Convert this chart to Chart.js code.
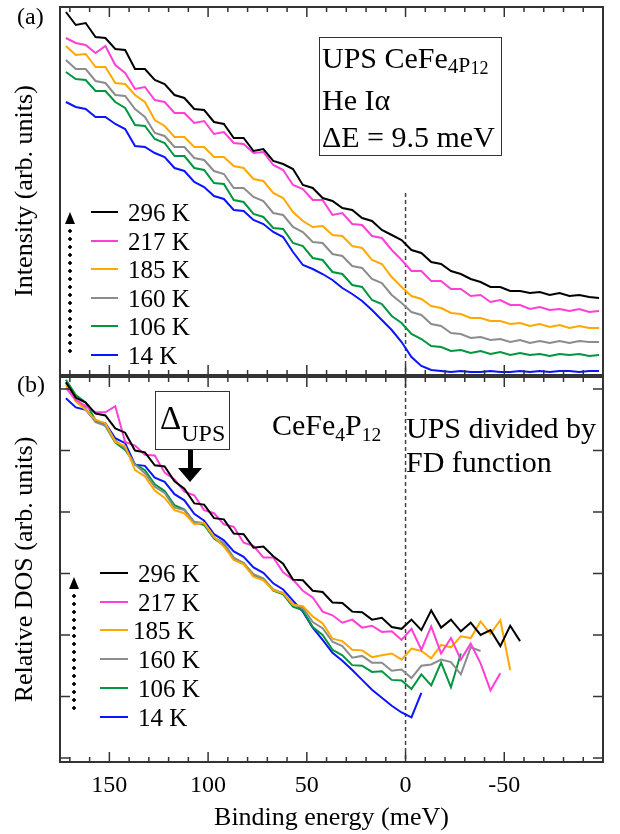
<!DOCTYPE html>
<html>
<head>
<meta charset="utf-8">
<script src="https://cdn.jsdelivr.net/npm/chart.js@4.4.1/dist/chart.umd.min.js"></script>
<style>
  html, body { margin: 0; padding: 0; background: #fff; }
  #wrap { position: relative; width: 620px; height: 834px; overflow: hidden;
          font-family: "Liberation Serif", "Times New Roman", serif; color: #000; }
  #wrap canvas { position: absolute; left: 0; }
  .t { position: absolute; white-space: nowrap; line-height: 1; }
  .box { position: absolute; border: 1.5px solid #333; box-sizing: border-box; }
  .key { position: absolute; height: 0; border-top: 2.5px solid; }
  .dots { position: absolute; width: 4px;
          background: radial-gradient(circle, #000 1.5px, transparent 2px) center top / 4px 8px repeat-y; }
  .tri { position: absolute; width: 0; height: 0; }
</style>
</head>
<body>
<div id="wrap">
  <canvas id="ca" width="620" height="376" style="top:0"></canvas>
  <canvas id="cb" width="620" height="458" style="top:376px"></canvas>
</div>
<script>
// binding energy grid (meV)
const energy = [172, 167, 162, 157, 152, 147, 142, 137, 132, 127, 122, 117, 112, 107, 102, 97, 92, 87, 82, 77,
  72, 67, 62, 57, 52, 47, 42, 37, 32, 27, 22, 17, 12, 7, 2, -3, -8, -13, -18, -23,
  -28, -33, -38, -43, -48, -53, -58, -63, -68, -73, -78, -83, -88, -93, -98];

const temps = ['296 K', '217 K', '185 K', '160 K', '106 K', '14 K'];
const colors = ['#000000', '#ff3fd8', '#ffa800', '#8c8c8c', '#00963f', '#0a14ff'];

// (a) UPS intensity, arb. units
const ups296 = [36.3, 35.0, 35.2, 33.8, 33.7, 32.6, 32.5, 30.6, 30.6, 29.5, 29.1, 28.0, 27.7, 26.6, 26.5, 25.3, 25.1, 23.7, 23.7, 22.4,
  22.6, 21.4, 21.1, 20.6, 19.0, 18.7, 17.7, 17.4, 16.7, 16.5, 15.7, 15.4, 14.5, 14.0, 13.5, 12.5, 12.2, 11.3, 11.1, 10.4,
  10.1, 9.6, 9.3, 8.8, 8.8, 8.4, 8.4, 8.2, 8.3, 8.0, 8.2, 7.9, 8.0, 7.8, 7.7];
const ups217 = [33.7, 33.2, 33.0, 32.2, 32.9, 31.0, 30.2, 28.6, 28.8, 27.5, 27.3, 26.2, 26.2, 25.2, 25.4, 24.1, 24.3, 23.2, 23.1, 22.2,
  22.3, 21.0, 20.5, 19.0, 18.6, 17.5, 17.5, 16.0, 16.2, 15.1, 15.0, 13.9, 13.7, 12.5, 11.5, 10.4, 10.4, 9.4, 9.4, 8.6,
  8.6, 7.9, 8.0, 7.3, 7.5, 7.0, 7.0, 6.6, 6.8, 6.5, 6.6, 6.4, 6.6, 6.3, 6.4];
const ups185 = [32.9, 32.0, 32.1, 30.8, 30.8, 29.2, 29.1, 28.0, 27.3, 25.5, 24.9, 23.8, 23.8, 22.8, 22.8, 21.8, 21.8, 20.9, 20.7, 19.6,
  19.4, 18.2, 17.7, 16.3, 15.4, 14.8, 14.9, 14.0, 13.9, 12.9, 12.7, 11.5, 11.1, 9.8, 8.8, 7.9, 7.6, 6.9, 6.7, 6.2,
  6.1, 5.7, 5.7, 5.4, 5.4, 5.1, 5.2, 4.9, 5.1, 4.8, 5.0, 4.7, 4.9, 4.7, 4.7];
const ups160 = [31.5, 30.6, 30.6, 29.4, 29.2, 28.0, 27.9, 26.6, 25.8, 24.2, 23.9, 22.8, 22.8, 21.7, 21.5, 20.4, 20.1, 18.7, 18.7, 17.8,
  17.4, 16.2, 16.0, 14.8, 14.3, 13.3, 13.2, 12.1, 11.9, 10.9, 10.7, 9.6, 9.2, 8.0, 7.2, 6.3, 6.0, 5.1, 4.9, 4.2,
  4.1, 3.7, 3.8, 3.5, 3.6, 3.3, 3.5, 3.2, 3.4, 3.2, 3.4, 3.2, 3.4, 3.3, 3.3];
const ups106 = [30.3, 29.6, 29.5, 28.4, 28.4, 27.3, 26.7, 25.0, 24.9, 23.6, 23.2, 21.9, 21.9, 20.7, 20.5, 19.2, 19.1, 17.5, 17.3, 16.1,
  15.8, 14.7, 14.6, 13.2, 12.9, 11.7, 11.5, 10.3, 10.1, 9.0, 8.8, 7.5, 7.1, 5.9, 5.2, 4.1, 3.6, 2.9, 2.8, 2.4,
  2.5, 2.2, 2.4, 2.1, 2.3, 2.0, 2.2, 2.0, 2.1, 1.9, 2.1, 2.0, 2.1, 1.9, 2.0];
const ups14 = [27.3, 26.8, 26.6, 25.8, 25.8, 25.1, 24.6, 22.9, 22.8, 22.2, 21.8, 20.7, 20.4, 19.3, 18.8, 17.9, 17.6, 16.5, 16.4, 15.5,
  15.1, 14.3, 13.8, 12.3, 11.0, 10.6, 10.1, 9.5, 8.7, 8.1, 7.4, 6.5, 5.5, 4.5, 3.3, 1.8, 0.9, 0.5, 0.4, 0.3,
  0.4, 0.3, 0.3, 0.4, 0.3, 0.3, 0.4, 0.3, 0.4, 0.3, 0.4, 0.4, 0.3, 0.4, 0.4];

// (b) UPS / FD, relative DOS (curves stop where the data stops)
const dos296 = [6.11, 5.86, 5.78, 5.60, 5.57, 5.36, 5.29, 5.00, 4.97, 4.76, 4.74, 4.50, 4.38, 4.14, 4.12, 3.90, 3.88, 3.65, 3.64, 3.42,
  3.44, 3.28, 3.16, 2.90, 2.89, 2.72, 2.70, 2.53, 2.52, 2.38, 2.37, 2.25, 2.28, 2.13, 2.10, 2.25, 2.08, 2.40, 2.12, 2.25,
  2.06, 2.20, 2.00, 2.08, 1.82, 2.15, 1.90];
const dos217 = [6.02, 5.82, 5.72, 5.62, 5.62, 5.72, 5.14, 5.08, 4.93, 4.92, 4.64, 4.53, 4.33, 4.27, 4.03, 3.98, 3.80, 3.76, 3.50, 3.45,
  3.26, 3.26, 3.02, 2.90, 2.72, 2.61, 2.38, 2.32, 2.20, 2.25, 2.12, 2.15, 2.05, 2.06, 1.92, 2.10, 1.76, 2.14, 1.70, 1.95,
  1.60, 1.86, 1.54, 1.10, 1.38];
const dos185 = [6.07, 5.80, 5.66, 5.50, 5.44, 5.14, 5.07, 4.68, 4.58, 4.35, 4.23, 4.03, 3.98, 3.80, 3.82, 3.60, 3.44, 3.22, 3.15, 2.95,
  2.89, 2.73, 2.68, 2.49, 2.47, 2.30, 2.19, 1.94, 1.90, 1.76, 1.75, 1.64, 1.67, 1.70, 1.60, 1.78, 1.74, 1.62, 1.84, 1.80,
  1.98, 1.95, 2.22, 2.02, 2.24, 1.43];
const dos160 = [6.10, 5.83, 5.68, 5.46, 5.40, 5.16, 5.04, 4.77, 4.63, 4.41, 4.31, 4.07, 4.03, 3.84, 3.82, 3.58, 3.50, 3.26, 3.17, 2.99,
  2.92, 2.74, 2.68, 2.50, 2.44, 2.21, 2.11, 1.89, 1.82, 1.63, 1.66, 1.55, 1.55, 1.42, 1.44, 1.30, 1.50, 1.52, 1.60, 1.56,
  1.36, 1.80, 1.74];
const dos106 = [6.15, 5.90, 5.78, 5.49, 5.40, 5.13, 5.01, 4.78, 4.68, 4.45, 4.34, 4.11, 4.04, 3.83, 3.79, 3.57, 3.46, 3.24, 3.17, 2.97,
  2.91, 2.72, 2.66, 2.46, 2.40, 2.13, 2.00, 1.76, 1.67, 1.51, 1.50, 1.40, 1.41, 1.27, 1.26, 1.12, 1.36, 1.18, 1.55, 1.15,
  1.70];
const dos14 = [5.85, 5.70, 5.66, 5.48, 5.44, 5.20, 5.12, 4.77, 4.75, 4.56, 4.49, 4.29, 4.19, 3.97, 3.86, 3.64, 3.54, 3.36, 3.27, 3.10,
  3.01, 2.84, 2.74, 2.56, 2.38, 2.12, 1.92, 1.71, 1.58, 1.43, 1.27, 1.11, 0.98, 0.85, 0.74, 0.66, 1.06];

const dosTicks = [0, 1, 2, 3, 4, 5, 6];

const upsSets = [ups296, ups217, ups185, ups160, ups106, ups14];
const dosSets = [dos296, dos217, dos185, dos160, dos106, dos14];

Chart.defaults.font.family = '"Liberation Serif", "Times New Roman", serif';
Chart.defaults.color = '#000';

const toPoints = vals => vals.map((v, i) => ({ x: energy[i], y: v }));
const makeSets = sets => sets.map((vals, i) => ({
  label: temps[i],
  data: toPoints(vals),
  borderColor: colors[i],
  borderWidth: 2,
  pointRadius: 0,
  tension: 0,
  fill: false
}));

// frame, inward ticks and the E_F dashed line
const framePlugin = {
  id: 'frame',
  beforeDatasetsDraw(chart, args, opts) {
    const { ctx, chartArea: a, scales: { x, y } } = chart;
    const x0 = x.getPixelForValue(0);
    ctx.save();
    ctx.strokeStyle = '#444';
    ctx.lineWidth = 1.5;
    ctx.setLineDash([4, 3]);
    ctx.beginPath();
    ctx.moveTo(x0, y.getPixelForValue(opts.dashFrom));
    ctx.lineTo(x0, a.bottom);
    ctx.stroke();
    ctx.restore();
  },
  afterDatasetsDraw(chart, args, opts) {
    const { ctx, chartArea: a, scales: { x, y } } = chart;
    ctx.save();
    ctx.strokeStyle = '#333';
    ctx.lineWidth = 1.5;
    const seg = (x1, y1, x2, y2) => { ctx.beginPath(); ctx.moveTo(x1, y1); ctx.lineTo(x2, y2); ctx.stroke(); };
    for (let e = -90; e <= 170; e += 10) {
      const px = x.getPixelForValue(e);
      const len = e % 50 === 0 ? 10 : 5;
      seg(px, a.top, px, a.top + len);
      seg(px, a.bottom, px, a.bottom - len);
    }
    (opts.yTicks || []).forEach(v => {
      const py = y.getPixelForValue(v);
      seg(a.left, py, a.left + 10, py);
      seg(a.right, py, a.right - 10, py);
    });
    ctx.lineWidth = 2;
    ctx.strokeRect(a.left, a.top, a.right - a.left, a.bottom - a.top);
    ctx.restore();
  }
};

const yTitle = text => ({ display: true, text: text, font: { size: 26 }, padding: { top: 10, bottom: 0 } });

new Chart(document.getElementById('ca'), {
  type: 'line',
  data: { datasets: makeSets(upsSets) },
  plugins: [framePlugin],
  options: {
    responsive: false,
    animation: false,
    layout: { padding: { top: 7, right: 17, bottom: 1, left: 0 } },
    plugins: { legend: { display: false }, tooltip: { enabled: false }, frame: { dashFrom: 18.2 } },
    scales: {
      x: { type: 'linear', reverse: true, min: -100, max: 175, display: false },
      y: {
        min: 0, max: 36.8,
        ticks: { display: false },
        grid: { display: false, drawTicks: false },
        border: { display: false },
        title: yTitle('Intensity (arb. units)'),
        afterFit: s => { s.width = 60; }
      }
    }
  }
});

new Chart(document.getElementById('cb'), {
  type: 'line',
  data: { datasets: makeSets(dosSets) },
  plugins: [framePlugin],
  options: {
    responsive: false,
    animation: false,
    layout: { padding: { top: 1, right: 17, bottom: 0, left: 0 } },
    plugins: { legend: { display: false }, tooltip: { enabled: false }, frame: { dashFrom: 6.195, yTicks: dosTicks } },
    scales: {
      x: {
        type: 'linear', reverse: true, min: -100, max: 175,
        grid: { display: false, drawTicks: false },
        border: { display: false },
        ticks: {
          stepSize: 50, includeBounds: false, autoSkip: false, maxRotation: 0, padding: 9,
          font: { size: 24 },
          callback: v => (v > -100 && v < 175 && v % 50 === 0) ? String(v) : ''
        },
        title: { display: true, text: 'Binding energy (meV)', font: { size: 26 }, padding: { top: 0, bottom: 0 } },
        afterFit: s => { s.height = 72; }
      },
      y: {
        min: -0.065, max: 6.195,
        ticks: { display: false },
        grid: { display: false, drawTicks: false },
        border: { display: false },
        title: yTitle('Relative DOS (arb. units)'),
        afterFit: s => { s.width = 60; }
      }
    }
  }
});

// annotations and legends
const wrap = document.getElementById('wrap');
function put(cls, css, html) {
  const d = document.createElement('div');
  d.className = cls;
  d.style.cssText = css;
  if (html) d.innerHTML = html;
  wrap.appendChild(d);
  return d;
}
function text(html, left, base, size) {
  return put('t', 'left:' + left + 'px;top:' + (base - 0.84 * size).toFixed(1) + 'px;font-size:' + size + 'px', html);
}

text('(a)', 17, 24, 24);
text('(b)', 17, 392, 24);

put('box', 'left:319px;top:37px;width:183px;height:119px');
text('UPS CeFe<span style="font-size:0.7em;vertical-align:-0.25em">4</span><span style="font-size:0.72em;vertical-align:-0.2em">P</span><span style="font-size:0.6em;vertical-align:-0.35em">12</span>', 322, 68, 30);
text('He I&alpha;', 322, 110, 30);
text('&Delta;E = 9.5 meV', 322, 147, 30);

put('box', 'left:155px;top:391px;width:75px;height:59px');
text('&Delta;<span style="font-size:24px;vertical-align:-0.5em">UPS</span>', 160, 430, 33);
put('tri', 'left:188px;top:450px;width:5px;height:19px;background:#000');
put('tri', 'left:178px;top:468px;border-left:12.5px solid transparent;border-right:12.5px solid transparent;border-top:14px solid #000');

text('CeFe<span style="font-size:0.65em;vertical-align:-0.3em">4</span>P<span style="font-size:0.65em;vertical-align:-0.3em">12</span>', 272, 435, 30);
text('UPS divided by', 406, 438, 30);
text('FD function', 406, 472, 30);

const rowsA = [212, 241, 269, 298, 326, 355];
const rowsB = [573, 602, 630, 659, 688, 717];
const textLeftB = [138, 138, 133, 138, 138, 138];
temps.forEach((lab, i) => {
  put('key', 'left:91px;top:' + (rowsA[i] - 1.25) + 'px;width:27px;border-color:' + colors[i]);
  put('t', 'left:128px;top:' + (rowsA[i] - 12.5) + 'px;font-size:25px', lab);
  put('key', 'left:100px;top:' + (rowsB[i] - 1.25) + 'px;width:28px;border-color:' + colors[i]);
  put('t', 'left:' + textLeftB[i] + 'px;top:' + (rowsB[i] - 12.5) + 'px;font-size:25px', lab);
});

// dotted "increasing T" arrows
put('tri', 'left:65px;top:212px;border-left:5px solid transparent;border-right:5px solid transparent;border-bottom:12px solid #000');
put('dots', 'left:68px;top:227px;height:130px');
put('tri', 'left:69px;top:577px;border-left:5px solid transparent;border-right:5px solid transparent;border-bottom:12px solid #000');
put('dots', 'left:72px;top:592px;height:122px');
</script>
</body>
</html>
